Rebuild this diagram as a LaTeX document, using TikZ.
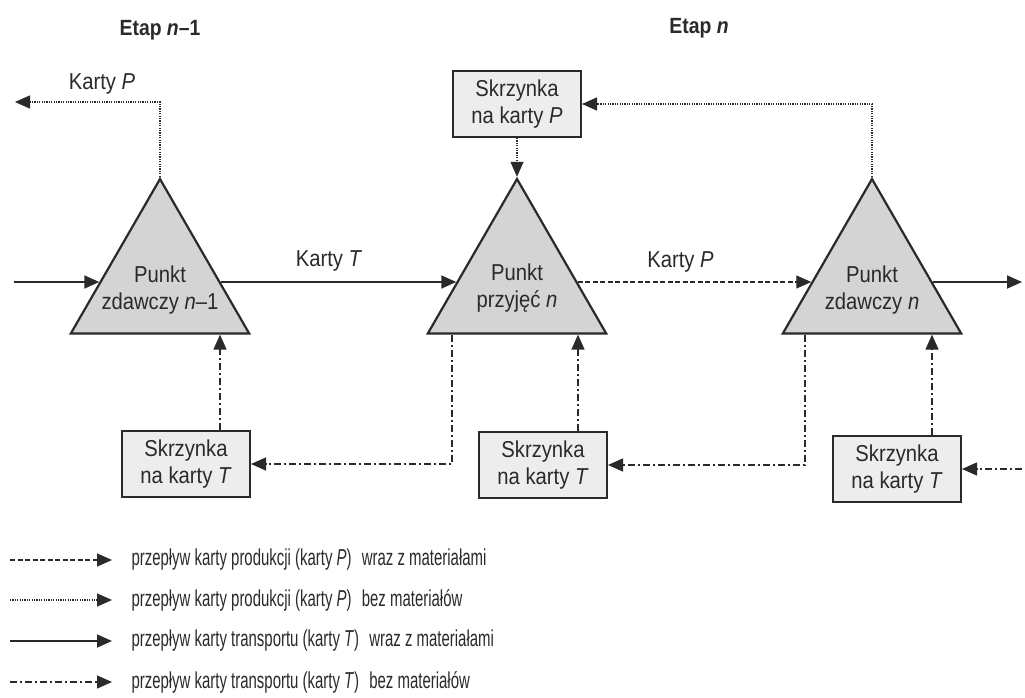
\documentclass[tikz,border=0pt]{standalone}
\usepackage{fontspec}
\setmainfont[FakeStretch=0.88]{Liberation Sans}
\newfontfamily\narrowfont[FakeStretch=0.65]{Liberation Sans}
\usetikzlibrary{shapes.geometric,arrows.meta}
\definecolor{ink}{HTML}{2A2A2A}
\tikzset{
  tri/.style={regular polygon, regular polygon sides=3, minimum size=206pt, inner sep=0pt, draw=ink, line width=2.2pt, fill=black!17},
  box/.style={rectangle, draw=ink, line width=2pt, fill=black!7, minimum width=128pt, minimum height=66pt, inner sep=0pt},
  txt/.style={text=ink, font=\fontsize{23}{27}\selectfont, align=center},
  legtxt/.style={text=ink, font=\narrowfont\fontsize{23}{26}\selectfont, anchor=west},
  flow/.style={draw=ink, line width=1.3pt, -{Triangle[length=15pt,width=13pt]}},
  solidT/.style={flow, line width=1.8pt},
  dashP/.style={flow, dash pattern=on 5pt off 2.5pt},
  dotP/.style={flow, dash pattern=on 1.2pt off 1.2pt},
  dashdotT/.style={flow, dash pattern=on 7pt off 3pt on 2pt off 3pt},
}
\begin{document}
\begin{tikzpicture}[x=1pt, y=-1pt]
    \useasboundingbox (0,0) rectangle (1025,698);
    % stage headings
    \node[txt, font=\fontsize{22}{24}\selectfont\bfseries] (etap1) at (160,30) {Etap \textit{n}--1};
    \node[txt, font=\fontsize{22}{24}\selectfont\bfseries] (etap2) at (699,28) {Etap \textit{n}};
    % points
    \node[tri] (t1) at (160,282) {};
    \node[tri] (t2) at (517,282) {};
    \node[tri] (t3) at (872,282) {};
    \node[txt] (t1txt) at ([yshift=-8pt]t1.center) {Punkt\\zdawczy \textit{n}--1};
    \node[txt] (t2txt) at ([yshift=-6pt]t2.center) {Punkt\\przyjęć \textit{n}};
    \node[txt] (t3txt) at ([yshift=-8pt]t3.center) {Punkt\\zdawczy \textit{n}};
    % card boxes
    \node[box, txt] (bP) at (517,104) {Skrzynka\\na karty \textit{P}};
    \node[box, txt] (bT1) at (186,464) {Skrzynka\\na karty \textit{T}};
    \node[box, txt] (bT2) at (543,465) {Skrzynka\\na karty \textit{T}};
    \node[box, txt] (bT3) at (897,469) {Skrzynka\\na karty \textit{T}};
    % loose ends
    \coordinate (in) at (14,282);
    \coordinate (out) at (1022,282);
    \coordinate (pout) at (15,102);
    \coordinate (tin) at (1022,469);
    % material flow
    \draw[solidT] (in) -- (t1);
    \draw[solidT] (t1) -- (t2) node[pos=0.46, above=6pt, txt] (lT) {Karty \textit{T}};
    \draw[dashP] (t2) -- (t3) node[pos=0.44, above=6pt, txt] (lP) {Karty \textit{P}};
    \draw[solidT] (t3) -- (out);
    % P cards
    \draw[dotP] (t1.north) |- (pout) node[pos=0.70, above=4pt, txt] (lP0) {Karty \textit{P}};
    \draw[dotP] (t3.north) |- (bP.east);
    \draw[dotP] (bP.south) -- (t2.north);
    % T cards
    \draw[dashdotT] ([xshift=34pt]bT1.north) coordinate (a1) -- (a1 |- t1.south);
    \draw[dashdotT] ([xshift=35pt]bT2.north) coordinate (a2) -- (a2 |- t2.south);
    \draw[dashdotT] ([xshift=35pt]bT3.north) coordinate (a3) -- (a3 |- t3.south);
    \draw[dashdotT] ([xshift=-65pt]t2.south) |- (bT1.east);
    \draw[dashdotT] ([xshift=-67pt]t3.south) |- (bT2.east);
    \draw[dashdotT] (tin) -- (bT3.east);
    % legend
    \node[legtxt] (l1) at (128,560) {przepływ karty produkcji (karty \textit{P})\hspace{6pt} wraz z materiałami};
    \node[legtxt] (l2) at (128,600) {przepływ karty produkcji (karty \textit{P})\hspace{6pt} bez materiałów};
    \node[legtxt] (l3) at (128,641) {przepływ karty transportu (karty \textit{T})\hspace{6pt} wraz z materiałami};
    \node[legtxt] (l4) at (128,682) {przepływ karty transportu (karty \textit{T})\hspace{6pt} bez materiałów};
    \draw[dashP] (10,560) -- ([xshift=-16pt]l1.west);
    \draw[dotP] (10,600) -- ([xshift=-16pt]l2.west);
    \draw[solidT] (10,641) -- ([xshift=-16pt]l3.west);
    \draw[dashdotT] (10,682) -- ([xshift=-16pt]l4.west);
\end{tikzpicture}
\end{document}
